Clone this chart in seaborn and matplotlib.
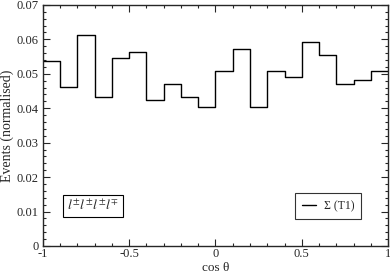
import numpy as np
import matplotlib
matplotlib.use("Agg")
import matplotlib.pyplot as plt
import seaborn as sns
from matplotlib.lines import Line2D
from matplotlib.ticker import MultipleLocator

# bin edges in cos(theta) and normalised event fractions
bin_edges = [-1.0, -0.9, -0.8, -0.7, -0.6, -0.5, -0.4, -0.3, -0.2, -0.1, 0.0,
             0.1, 0.2, 0.3, 0.4, 0.5, 0.6, 0.7, 0.8, 0.9, 1.0]
events = [0.0537, 0.0461, 0.0612, 0.0434, 0.0545, 0.0563, 0.0425, 0.0471, 0.0434, 0.0405,
          0.0508, 0.0573, 0.0405, 0.0508, 0.0490, 0.0593, 0.0555, 0.0471, 0.0481, 0.0508]
series_label = "Σ (T1)"
channel_label = r"$l^{\pm}l^{\pm}l^{\pm}l^{\mp}$"

sns.set_style("ticks")
plt.rcParams["font.family"] = ["Liberation Serif", "DejaVu Serif"]
plt.rcParams["mathtext.fontset"] = "stix"

fig = plt.figure(figsize=(3.9, 2.73), dpi=100)
ax = fig.add_axes([0.110, 0.099, 0.885, 0.883])

centres = [(a + b) / 2 for a, b in zip(bin_edges[:-1], bin_edges[1:])]
sns.histplot(x=centres, weights=events, bins=bin_edges, element="step", fill=False,
             color="black", linewidth=1.0, ax=ax)

ax.set_xlim(-1, 1)
ax.set_ylim(0, 0.07)
ax.xaxis.set_minor_locator(MultipleLocator(0.1))
ax.yaxis.set_minor_locator(MultipleLocator(0.002))
ax.set_xticks([-1, -0.5, 0, 0.5, 1])
ax.set_xticklabels(["-1", "-0.5", "0", "0.5", "1"])
ax.set_yticks([0, 0.01, 0.02, 0.03, 0.04, 0.05, 0.06, 0.07])
ax.set_yticklabels(["0", "0.01", "0.02", "0.03", "0.04", "0.05", "0.06", "0.07"])
ax.tick_params(which="both", direction="in", top=True, right=True, labelsize=9)
ax.tick_params(axis="x", pad=1.5)
ax.tick_params(axis="y", pad=3)
ax.tick_params(which="major", length=5, width=0.8)
ax.tick_params(which="minor", length=2.5, width=0.8)
for s in ax.spines.values():
    s.set_linewidth(1.0)

ax.set_xlabel("cos θ", fontsize=9.5)
ax.xaxis.set_label_coords(0.5, -0.066)
ax.set_ylabel("Events (normalised)", fontsize=10, labelpad=2)

handle = Line2D([], [], color="black", linewidth=1.0)
leg = ax.legend([handle], [series_label], loc="lower right", bbox_to_anchor=(0.922, 0.112),
                borderaxespad=0, fontsize=8.5, frameon=True, fancybox=False, edgecolor="black",
                handlelength=1.2, handletextpad=0.6, borderpad=0.6)
leg.get_frame().set_linewidth(0.8)

ax.text(0.07, 0.166, channel_label, transform=ax.transAxes, fontsize=10, va="center", ha="left",
        bbox=dict(boxstyle="square,pad=0.3", facecolor="white", edgecolor="black", linewidth=0.8))

fig.savefig("out.png", dpi=100)
